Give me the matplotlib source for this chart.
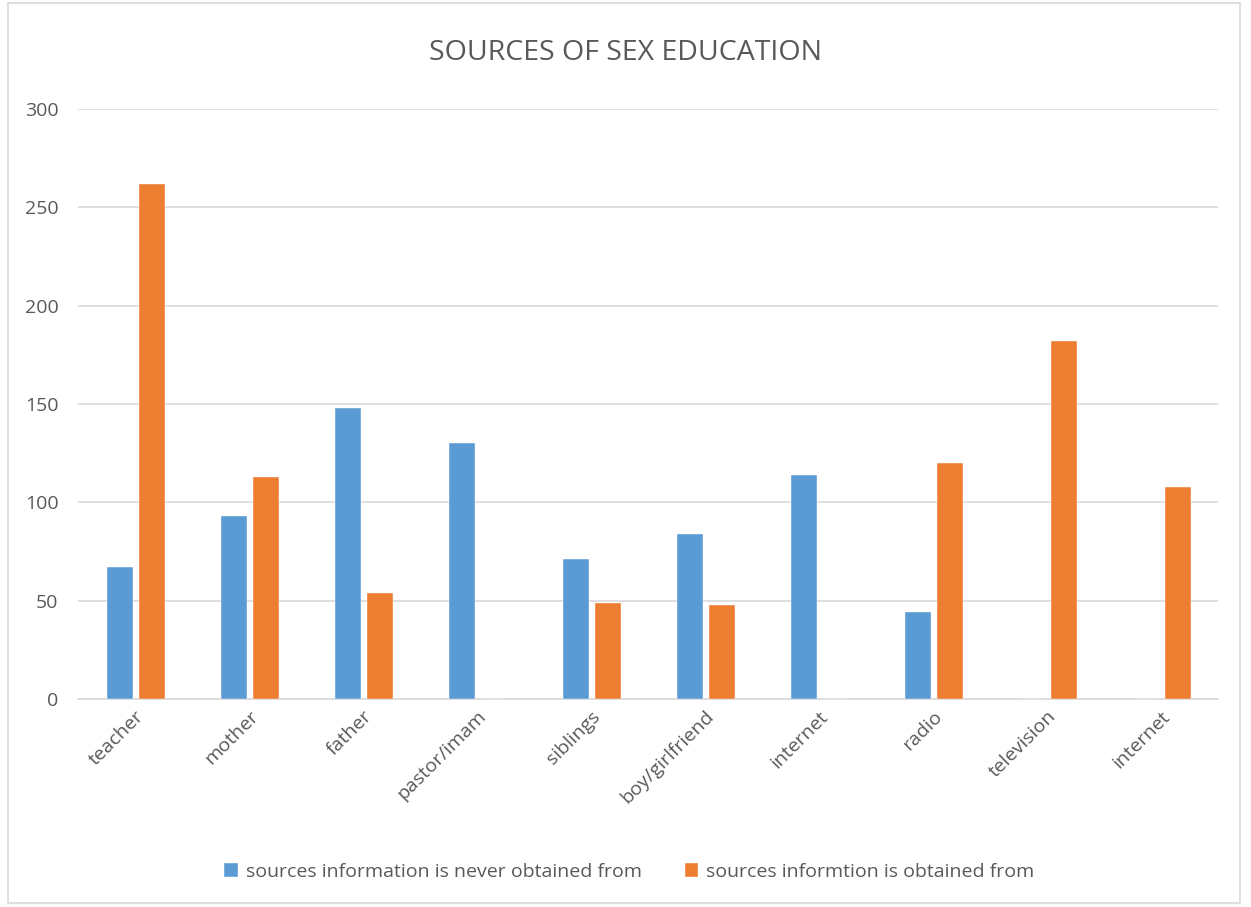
import numpy as np
import matplotlib.pyplot as plt
from matplotlib.patches import Rectangle

categories = ["teacher", "mother", "father", "pastor/imam", "siblings",
              "boy/girlfriend", "internet", "radio", "television", "internet"]
never_obtained = [67, 93, 148, 130, 71, 84, 114, 44, 0, 0]
obtained = [262, 113, 54, 0, 49, 48, 0, 120, 182, 108]
series_names = ["sources information is never obtained from",
                "sources informtion is obtained from"]

plt.rcParams['font.family'] = ['Open Sans', 'DejaVu Sans']
gray = '#595959'

fig = plt.figure(figsize=(12.51, 9.07), dpi=100)
ax = fig.add_axes([78 / 1251, 1 - 699 / 907, 1140 / 1251, 590 / 907])

x = np.arange(len(categories))
w = 0.23
ax.bar(x - 0.13, never_obtained, w, color='#5B9BD5', edgecolor='white', linewidth=0.3,
       label=series_names[0], zorder=3)
ax.bar(x + 0.15, obtained, w, color='#ED7D31', edgecolor='white', linewidth=0.3,
       label=series_names[1], zorder=3)

ax.set_xlim(-0.5, len(categories) - 0.5)
ax.set_ylim(0, 300)
ax.set_yticks(range(0, 301, 50))
ax.yaxis.grid(True, color='#D9D9D9', linewidth=1.2, zorder=0)
for s in ['top', 'right', 'left']:
    ax.spines[s].set_visible(False)
ax.spines['bottom'].set_color('#D9D9D9')
ax.spines['bottom'].set_linewidth(1.2)
ax.tick_params(axis='both', length=0, labelsize=14, colors=gray)
ax.tick_params(axis='y', pad=14)
ax.tick_params(axis='x', pad=6)
ax.set_xticks(x)
ax.set_xticklabels(categories, rotation=45, ha='right', rotation_mode='anchor')

fig.text(0.5, 1 - 53 / 907, "SOURCES OF SEX EDUCATION", ha='center', va='center',
         fontsize=20.5, color=gray)

fig.legend(loc='center', bbox_to_anchor=(0.503, 1 - 872 / 907), ncol=2, frameon=False,
           fontsize=14, labelcolor=gray, handlelength=0.7, handleheight=0.7,
           columnspacing=2.2, handletextpad=0.4)

fig.patches.append(Rectangle((8 / 1251, 4 / 907), 1232 / 1251, 900 / 907,
                             transform=fig.transFigure, fill=False,
                             edgecolor='#D9D9D9', linewidth=1.2))

fig.savefig('out.png', dpi=100)
